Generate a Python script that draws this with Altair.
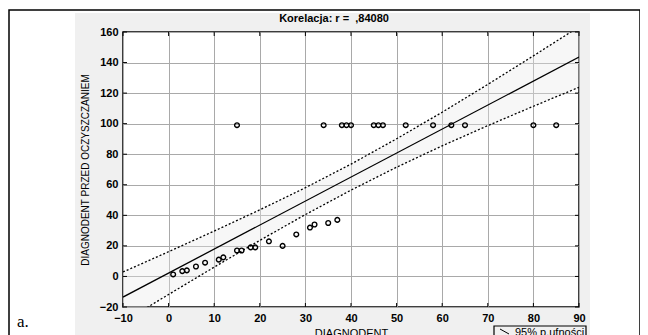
import altair as alt
import pandas as pd

# ---- data ----
x_hi = [15, 34, 38, 39, 40, 45, 46, 47, 52, 58, 62, 65, 80, 85]
y_hi = [99] * len(x_hi)
x_lo = [1, 3, 4, 6, 8, 11, 12, 15, 16, 18, 19, 22, 25, 28, 31, 32, 35, 37]
y_lo = [1.3, 3.5, 4, 6.5, 9, 11, 12.5, 17, 17, 19, 19, 23, 20, 27.5, 32, 34, 35, 37]

reg_x = [-10, 90]
reg_y = [-13.5, 143.6]

band_x = [-10, 0, 10, 20, 30, 40, 50, 60, 70, 80, 90]
band_up = [2.9, 16.2, 29.7, 43.6, 58.1, 73.5, 90.1, 107.5, 125.7, 144.4, 163.4]
band_lo = [-29.9, -11.8, 6.1, 23.6, 40.5, 56.5, 71.5, 85.5, 98.7, 111.4, 123.8]

x_ticks = list(range(-10, 91, 10))
y_ticks = list(range(-20, 161, 20))

title_text = "Korelacja: r =\u00a0 ,84080"
x_title = "DIAGNODENT"
y_title = "DIAGNODENT PRZED OCZYSZCZANIEM"
legend_text = "95% p.ufności"
panel_label = "a."

W, H = 456, 275
FONT = "Liberation Sans"
PANEL = "#f0f0f0"
TL = 4  # inward tick length

pts = pd.DataFrame({"x": x_hi + x_lo, "y": y_hi + y_lo})
reg = pd.DataFrame({"x": reg_x, "y": reg_y})
band = pd.DataFrame({"x": band_x, "up": band_up, "lo": band_lo})
xt = pd.DataFrame({"t": x_ticks})
yt = pd.DataFrame({"t": y_ticks})
one = pd.DataFrame({"a": [0]})

xs = alt.Scale(domain=[-10, 90], nice=False, zero=False)
ys = alt.Scale(domain=[-20, 160], nice=False, zero=False)

common = dict(ticks=False, domain=False, grid=True, gridColor="#a9a9a9", gridWidth=1,
              labelFont=FONT, labelFontSize=11, labelFontWeight="bold", labelColor="black",
              labelPadding=5, labelFlush=False, labelOverlap=False,
              titleFont=FONT, titleFontWeight="normal", titleColor="black")
xax = alt.Axis(values=x_ticks, tickCount=len(x_ticks), title=x_title, titlePadding=4,
               titleFontSize=11, **common)
yax = alt.Axis(values=y_ticks, tickCount=len(y_ticks), title=y_title, titlePadding=9,
               titleFontSize=10, **common)


def rect(x, x2, y, y2, **kw):
    return alt.Chart(one).mark_rect(**kw).encode(
        x=alt.value(x), x2=alt.value(x2), y=alt.value(y), y2=alt.value(y2))


def text(t, x, y, **kw):
    return alt.Chart(one).mark_text(**kw).encode(
        x=alt.value(x), y=alt.value(y), text=alt.value(t))


# white surroundings outside the gray panel (svg background is the panel gray)
outside = (
    rect(-115, -48, -24, 330, color="white")
    + rect(-115, 520, -24, -19, color="white")
    + rect(467, 520, -24, 330, color="white")
)
frame = rect(-114, 517, -22, 330, fillOpacity=0, stroke="black", strokeWidth=1.5)

area = alt.Chart(band).mark_area(color="#e8e8e8", opacity=0.35, clip=True).encode(
    x=alt.X("x:Q", scale=xs, axis=xax), y=alt.Y("lo:Q", scale=ys, axis=yax), y2="up:Q")
up_line = alt.Chart(band).mark_line(color="black", strokeWidth=1.3, strokeDash=[2, 2],
                                    clip=True).encode(x=alt.X("x:Q", scale=xs), y=alt.Y("up:Q", scale=ys))
lo_line = alt.Chart(band).mark_line(color="black", strokeWidth=1.3, strokeDash=[2, 2],
                                    clip=True).encode(x=alt.X("x:Q", scale=xs), y=alt.Y("lo:Q", scale=ys))
reg_line = alt.Chart(reg).mark_line(color="black", strokeWidth=1.3, clip=True).encode(
    x=alt.X("x:Q", scale=xs), y=alt.Y("y:Q", scale=ys))
points = alt.Chart(pts).mark_point(shape="circle", filled=False, color="black", size=22,
                                   strokeWidth=1.4, opacity=1).encode(
    x=alt.X("x:Q", scale=xs), y=alt.Y("y:Q", scale=ys))

# inward ticks on all four sides of the plot frame
tick_top = alt.Chart(xt).mark_rule(color="black", strokeWidth=1).encode(
    x=alt.X("t:Q", scale=xs), y=alt.value(0), y2=alt.value(TL))
tick_bot = alt.Chart(xt).mark_rule(color="black", strokeWidth=1).encode(
    x=alt.X("t:Q", scale=xs), y=alt.value(H - TL), y2=alt.value(H))
tick_left = alt.Chart(yt).mark_rule(color="black", strokeWidth=1).encode(
    y=alt.Y("t:Q", scale=ys), x=alt.value(0), x2=alt.value(TL))
tick_right = alt.Chart(yt).mark_rule(color="black", strokeWidth=1).encode(
    y=alt.Y("t:Q", scale=ys), x=alt.value(W - TL), x2=alt.value(W))

title = text(title_text, 211, -13, font=FONT, fontSize=11, fontWeight="bold", color="black",
             align="center", baseline="middle")
label_a = text(panel_label, -106, 290, font="Liberation Serif", fontSize=17, color="black",
               align="left", baseline="middle")
leg_box = rect(371, 463, 294, 330, fillOpacity=0, stroke="black", strokeWidth=1.2)
leg_icon = alt.Chart(one).mark_rule(color="black", strokeWidth=1).encode(
    x=alt.value(377), x2=alt.value(386), y=alt.value(297), y2=alt.value(302))
leg_text = text(legend_text, 392, 301, font=FONT, fontSize=11, color="black",
                align="left", baseline="middle")

chart = alt.layer(
    area, outside, frame, up_line, lo_line, reg_line, points,
    tick_top, tick_bot, tick_left, tick_right,
    title, label_a, leg_box, leg_icon, leg_text
).properties(
    width=W, height=H,
    autosize=alt.AutoSizeParams(type="none"),
    padding={"left": 115, "top": 24, "right": 61, "bottom": 28},
    background=PANEL,
).configure_view(stroke="black", strokeWidth=1.5, fill="white")

chart.save("out.html", embed_options={"renderer": "svg", "actions": False})
